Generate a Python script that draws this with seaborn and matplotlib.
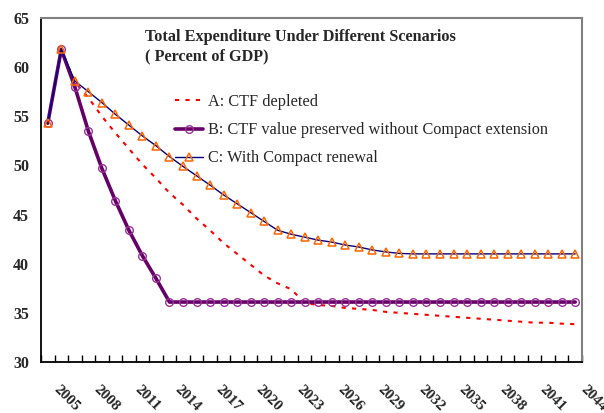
import numpy as np
import pandas as pd
import matplotlib
matplotlib.use("Agg")
import matplotlib.pyplot as plt
import seaborn as sns
from matplotlib.transforms import ScaledTranslation

years = list(range(2005, 2045))

scen_a = [54.3, 61.8, 58.5, 56.9, 55.0, 53.3, 51.7, 50.1, 48.7, 47.2,
          46.0, 44.6, 43.4, 42.1, 41.0, 39.9, 38.8, 38.0, 37.4, 36.0,
          35.8, 35.7, 35.5, 35.4, 35.3, 35.1, 35.0, 34.9, 34.8, 34.7,
          34.6, 34.5, 34.4, 34.3, 34.2, 34.1, 34.0, 34.0, 33.9, 33.85]

scen_b = [54.3, 61.8, 58.0, 53.5, 49.7, 46.4, 43.4, 40.8, 38.5, 36.1,
          36.1, 36.1, 36.1, 36.1, 36.1, 36.1, 36.1, 36.1, 36.1, 36.1,
          36.1, 36.1, 36.1, 36.1, 36.1, 36.1, 36.1, 36.1, 36.1, 36.1,
          36.1, 36.1, 36.1, 36.1, 36.1, 36.1, 36.1, 36.1, 36.1, 36.1]

scen_c = [54.3, 61.8, 58.6, 57.5, 56.4, 55.2, 54.1, 53.0, 52.0, 50.9,
          49.9, 48.95, 48.0, 47.0, 46.1, 45.2, 44.3, 43.4, 43.0, 42.7,
          42.4, 42.2, 41.9, 41.7, 41.4, 41.2, 41.05, 41.0, 41.0, 41.0,
          41.0, 41.0, 41.0, 41.0, 41.0, 41.0, 41.0, 41.0, 41.0, 41.0]

labels = ["A: CTF depleted",
          "B: CTF value preserved without Compact extension",
          "C: With Compact renewal"]
tick_years = list(range(2005, 2045, 3))
y_ticks = [30, 35, 40, 45, 50, 55, 60, 65]

title1 = "Total Expenditure Under Different Scenarios"
title2 = "( Percent of GDP)"

sns.set_theme(style="white")
plt.rcParams["font.family"] = ["Liberation Serif", "DejaVu Serif"]

df = pd.DataFrame({"year": years, "A": scen_a, "B": scen_b, "C": scen_c})

fig = plt.figure(figsize=(6.04, 4.13), dpi=100)
ax = fig.add_axes([41 / 604, 1 - 362 / 413, (582 - 41) / 604, (362 - 18) / 413])

sns.lineplot(data=df, x="year", y="A", ax=ax, color="#ff0000", lw=1.5,
             dashes=False, label=labels[0], zorder=2)
ax.lines[-1].set_dashes((2, 3))
sns.lineplot(data=df, x="year", y="B", ax=ax, color="#660066", lw=2.6,
             marker="o", markersize=5.5, markerfacecolor="none",
             markeredgecolor="#993399", markeredgewidth=1.0,
             label=labels[1], zorder=3)
sns.lineplot(data=df, x="year", y="C", ax=ax, color="#000080", lw=1.0,
             marker="^", markersize=6, markerfacecolor="none",
             markeredgecolor="#ff6600", markeredgewidth=1.1,
             label=labels[2], zorder=4)

ax.set_xlim(years[0] - 0.5, years[-1] + 0.5)
ax.set_ylim(y_ticks[0], y_ticks[-1])
ax.set_yticks(y_ticks)
ax.set_yticklabels([str(v) for v in y_ticks], fontsize=11.5, fontweight="bold")
ax.set_xticks(tick_years)
ax.set_xticklabels([str(v) for v in tick_years], fontsize=11,
                   fontweight="bold", rotation=-45, ha="left", va="top")
ax.set_xticks([y - 0.5 for y in years] + [years[-1] + 0.5], minor=True)
ax.tick_params(axis="x", which="major", length=0, pad=15)
ax.tick_params(axis="x", which="minor", length=5, width=1, direction="in",
               color="black", bottom=True)
ax.tick_params(axis="y", which="major", length=0, pad=8.5)
for lbl in ax.get_xticklabels():
    lbl.set_transform(lbl.get_transform() +
                      ScaledTranslation(3 / 100, 0, fig.dpi_scale_trans))

ax.set_xlabel("")
ax.set_ylabel("")
ax.grid(False)
for side in ["left", "bottom"]:
    ax.spines[side].set_color("black")
    ax.spines[side].set_linewidth(1.3)
for side in ["top", "right"]:
    ax.spines[side].set_color("#808080")
    ax.spines[side].set_linewidth(1.5)

leg = ax.legend(loc="upper left", bbox_to_anchor=(175 / 604, 1 - 94 / 413),
                bbox_transform=fig.transFigure, frameon=False, fontsize=11.7,
                handlelength=1.75, handletextpad=0.25, labelspacing=0.75,
                borderpad=0, borderaxespad=0)

fig.text(145 / 604, 1 - 41 / 413, title1, fontsize=11.7, fontweight="bold",
         va="baseline", ha="left")
fig.text(145 / 604, 1 - 60 / 413, title2, fontsize=11.7, fontweight="bold",
         va="baseline", ha="left")

fig.savefig("out.png", dpi=100, facecolor="white")
